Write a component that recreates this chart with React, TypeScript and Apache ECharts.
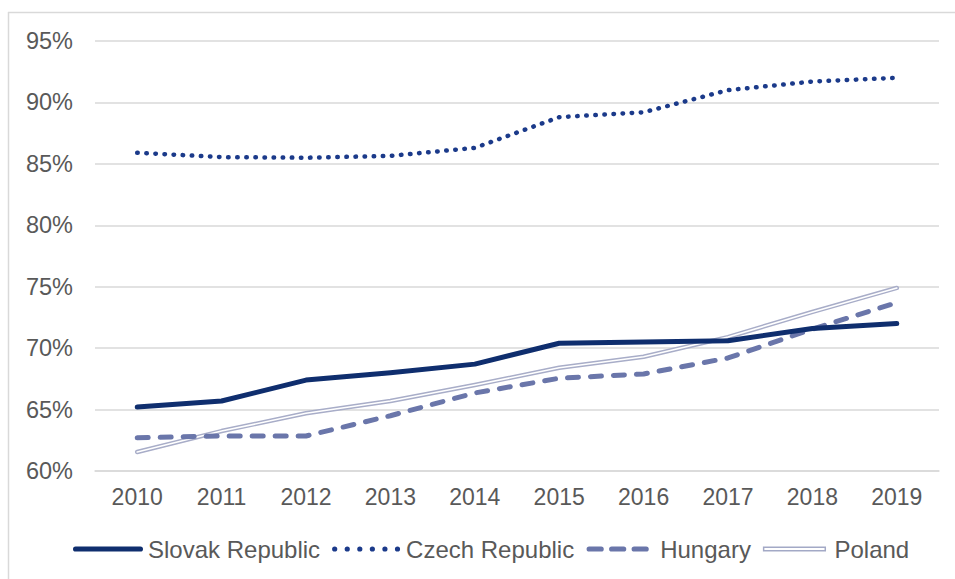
import React, { useEffect, useRef } from "react";
import * as echarts from "echarts";

const years = ["2010", "2011", "2012", "2013", "2014", "2015", "2016", "2017", "2018", "2019"];
const slovak = [65.2, 65.7, 67.4, 68.0, 68.7, 70.4, 70.5, 70.6, 71.6, 72.0];
const czech = [85.9, 85.55, 85.5, 85.65, 86.3, 88.8, 89.2, 91.0, 91.7, 92.0];
const hungary = [62.7, 62.85, 62.85, 64.5, 66.35, 67.55, 67.9, 69.2, 71.55, 73.7];
const poland = [61.55, 63.25, 64.7, 65.7, 67.0, 68.4, 69.3, 70.9, 72.95, 74.9];

const FONT = "'Liberation Sans', Arial, sans-serif";
const TEXT = "#595959";
const GRIDC = "#d9d9d9";

function dotsPath(): string {
  let d = "";
  for (let i = 0; i < 6; i++) {
    const cx = 2.6 + i * 12.56;
    d += `M${cx - 2.6},2.6 a2.6,2.6 0 1,0 5.2,0 a2.6,2.6 0 1,0 -5.2,0 Z `;
  }
  return "path://" + d + "M68,0 L68,0.01 Z";
}

function dashesPath(): string {
  let d = "";
  const w = 18;
  const gap = 4.5;
  for (let i = 0; i < 3; i++) {
    const x0 = i * (w + gap) + 3;
    d += `M${x0},0 H${x0 + w - 6} a2.6,2.6 0 0,1 0,5.2 H${x0} a2.6,2.6 0 0,1 0,-5.2 Z `;
  }
  return "path://M0,0 L0.01,0 Z " + d + "M68,0 L68,0.01 Z";
}

export default function App() {
  const ref = useRef<HTMLDivElement>(null);
  useEffect(() => {
    if (!ref.current) return;
    const chart = echarts.init(ref.current, null, { renderer: "svg" });
    chart.setOption({
      animation: false,
      backgroundColor: "#ffffff",
      textStyle: { fontFamily: FONT },
      grid: { left: 95, right: 16, top: 41, bottom: 108, containLabel: false },
      graphic: [
        { type: "line", shape: { x1: 8, y1: 12.5, x2: 955, y2: 12.5 }, style: { stroke: GRIDC, lineWidth: 1.5 }, silent: true },
        { type: "line", shape: { x1: 8.5, y1: 12, x2: 8.5, y2: 579 }, style: { stroke: GRIDC, lineWidth: 1.5 }, silent: true },
      ],
      legend: {
        left: 68,
        top: 532,
        itemWidth: 70,
        itemHeight: 5.2,
        itemGap: 12,
        textStyle: { fontFamily: FONT, fontSize: 24, color: TEXT },
        data: [
          { name: "Slovak Republic", icon: "path://M2.6,0 H67.4 a2.6,2.6 0 0,1 0,5.2 H2.6 a2.6,2.6 0 0,1 0,-5.2 Z", itemStyle: { color: "#0f2e6e" } },
          { name: "Czech Republic", icon: dotsPath(), itemStyle: { color: "#1b3a8a" } },
          { name: "Hungary", icon: dashesPath(), itemStyle: { color: "#6a76aa" } },
          {
            name: "Poland",
            icon: "path://M0,0H68V5.6H0Z M1.6,1.6V4H66.4V1.6Z",
            itemStyle: { color: "#a3a9c6" },
          },
        ],
      },
      xAxis: {
        type: "category",
        data: years,
        boundaryGap: true,
        axisLine: { show: true, lineStyle: { color: GRIDC, width: 1.5 } },
        axisTick: { show: false },
        axisLabel: { fontFamily: FONT, fontSize: 23, color: TEXT, margin: 14 },
      },
      yAxis: {
        type: "value",
        min: 60,
        max: 95,
        interval: 5,
        axisLine: { show: false },
        axisTick: { show: false },
        splitLine: { lineStyle: { color: GRIDC, width: 1.5 } },
        axisLabel: { fontFamily: FONT, fontSize: 23.5, color: TEXT, margin: 22, formatter: "{value}%" },
      },
      series: [
        {
          name: "Slovak Republic",
          type: "line",
          data: slovak,
          symbol: "none",
          color: "#0f2e6e",
          lineStyle: { color: "#0f2e6e", width: 5, cap: "round", join: "round" },
          z: 5,
        },
        {
          name: "Czech Republic",
          type: "line",
          data: czech,
          symbol: "none",
          color: "#1b3a8a",
          lineStyle: { color: "#1b3a8a", width: 4.5, type: [0.5, 8.6], cap: "round", join: "round" },
          z: 4,
        },
        {
          name: "Hungary",
          type: "line",
          data: hungary,
          symbol: "none",
          color: "#6a76aa",
          lineStyle: { color: "#6a76aa", width: 5, type: [11, 12], cap: "round", join: "round" },
          z: 3,
        },
        {
          name: "Poland",
          type: "line",
          data: poland,
          symbol: "none",
          color: "#a8adc8",
          lineStyle: { color: "#a8adc8", width: 4.5, cap: "round", join: "round" },
          z: 2,
        },
        {
          name: "PolandInner",
          type: "line",
          data: poland,
          symbol: "none",
          silent: true,
          color: "#ffffff",
          lineStyle: { color: "#ffffff", width: 1.6, cap: "round", join: "round" },
          z: 2,
        },
      ],
    });
    return () => chart.dispose();
  }, []);
  return (
    <div
      ref={ref}
      style={{ position: "fixed", left: 0, top: 0, width: 955, height: 579 }}
    />
  );
}
